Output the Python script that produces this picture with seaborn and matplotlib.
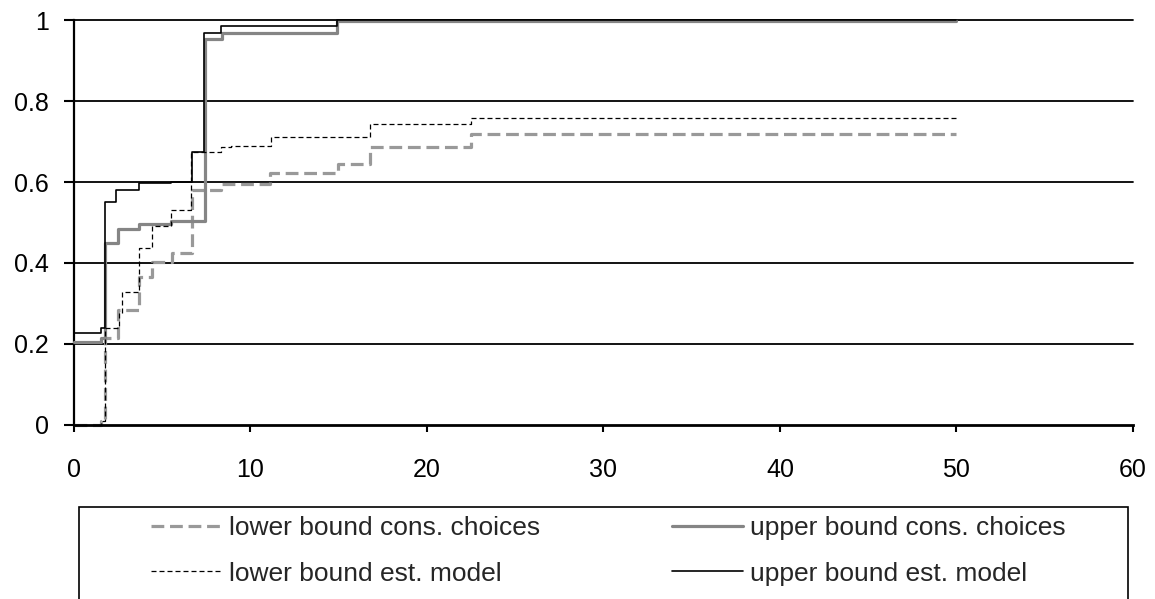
import matplotlib

matplotlib.use("Agg")

import matplotlib.pyplot as plt
import matplotlib.patches as mpatches
import seaborn as sns

sns.set_style("white")
plt.rcParams["font.family"] = ["Liberation Sans", "DejaVu Sans"]

# step functions (steps-post)
lower_cons_x = [0, 1.53, 1.77, 2.47, 3.66, 4.45, 5.58, 6.68, 8.35, 11.1, 14.95, 16.75, 22.47, 50]
lower_cons_y = [0, 0.01, 0.214, 0.284, 0.366, 0.403, 0.424, 0.58, 0.596, 0.623, 0.644, 0.686, 0.719, 0.719]

upper_cons_x = [0, 1.53, 1.77, 2.47, 3.69, 5.5, 7.45, 8.4, 14.92, 50]
upper_cons_y = [0.205, 0.215, 0.449, 0.483, 0.497, 0.503, 0.952, 0.968, 0.998, 0.998]

lower_est_x = [0, 1.53, 1.77, 2.57, 2.75, 3.66, 4.45, 5.5, 6.62, 8.32, 8.89, 11.17, 16.76, 22.47, 50]
lower_est_y = [0, 0.01, 0.239, 0.276, 0.329, 0.438, 0.491, 0.531, 0.675, 0.687, 0.690, 0.710, 0.744, 0.759, 0.759]

upper_est_x = [0, 1.53, 1.77, 2.38, 3.66, 5.5, 6.68, 7.38, 8.35, 14.9, 50]
upper_est_y = [0.227, 0.24, 0.551, 0.58, 0.598, 0.6, 0.675, 0.968, 0.986, 1.0, 1.0]

labels = [
    "lower bound cons. choices",
    "upper bound cons. choices",
    "lower bound est. model",
    "upper bound est. model",
]
x_ticks = [0, 10, 20, 30, 40, 50, 60]
y_ticks = [0, 0.2, 0.4, 0.6, 0.8, 1.0]
y_tick_labels = ["0", "0.2", "0.4", "0.6", "0.8", "1"]

fig = plt.figure(figsize=(11.55, 5.99), dpi=100)
ax = fig.add_axes([0.064, 0.2905, 0.9169, 0.6761])

for y in y_ticks[1:]:
    ax.axhline(y, color="black", linewidth=1.3, zorder=1, clip_on=False)

common = dict(drawstyle="steps-post", estimator=None, sort=False, ax=ax, clip_on=False, zorder=3)
sns.lineplot(x=lower_cons_x, y=lower_cons_y, color="#999999", linewidth=2.3,
             dashes=(4.0, 1.8), label=labels[0], **common)
sns.lineplot(x=upper_cons_x, y=upper_cons_y, color="#858585", linewidth=2.3,
             label=labels[1], **common)
sns.lineplot(x=lower_est_x, y=lower_est_y, color="black", linewidth=0.9,
             dashes=(4.0, 2.4), label=labels[2], **common)
sns.lineplot(x=upper_est_x, y=upper_est_y, color="black", linewidth=1.2,
             label=labels[3], **common)

ax.set_xlim(0, 60)
ax.set_ylim(0, 1)
ax.set_xticks(x_ticks)
ax.set_xticklabels([str(v) for v in x_ticks])
ax.set_yticks(y_ticks)
ax.set_yticklabels(y_tick_labels)
ax.tick_params(axis="both", which="major", labelsize=18, colors="black",
               direction="out", width=1.5, bottom=True, left=True)
ax.tick_params(axis="x", length=5, pad=19)
ax.tick_params(axis="y", length=7, pad=11)
ax.set_xlabel("")
ax.set_ylabel("")

for side in ["top", "right"]:
    ax.spines[side].set_visible(False)
ax.spines["left"].set_color("black")
ax.spines["left"].set_linewidth(1.6)
ax.spines["bottom"].set_color("black")
ax.spines["bottom"].set_linewidth(2.0)
ax.spines["bottom"].set_zorder(4)

legend = ax.get_legend()
if legend is not None:
    legend.remove()

lines = ax.get_lines()[-4:]
handles = [lines[0], lines[2], lines[1], lines[3]]
handle_labels = [labels[0], labels[2], labels[1], labels[3]]
fig.legend(handles, handle_labels, loc="upper left",
           bbox_to_anchor=(151 / 1155, 1 - 516 / 599), bbox_transform=fig.transFigure,
           ncol=2, frameon=False, borderpad=0, borderaxespad=0,
           handlelength=2.7, handletextpad=0.25, columnspacing=5.0,
           labelspacing=0.82, fontsize=19)

# legend frame, running off the bottom of the image as in the reference
frame = mpatches.Rectangle((79 / 1155, -0.1), 1049 / 1155, 0.1 + 1 - 507 / 599,
                           transform=fig.transFigure, fill=False,
                           edgecolor="black", linewidth=1.2, clip_on=False)
fig.add_artist(frame)

fig.savefig("out.png", dpi=100)
plt.close(fig)
